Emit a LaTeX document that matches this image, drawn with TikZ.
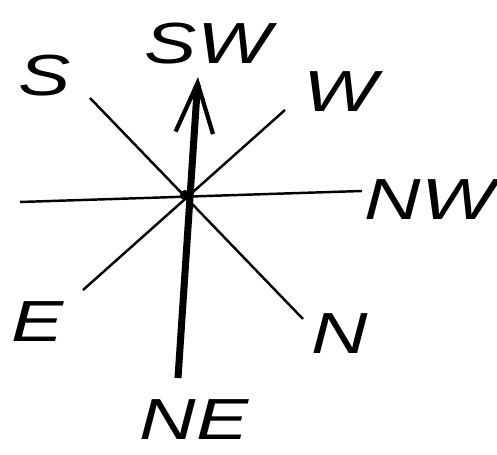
\documentclass[tikz,border=0pt]{standalone}
\usepackage{fontspec}
\setmainfont{Liberation Sans}
\usetikzlibrary{arrows.meta}
\newcommand{\hand}[1]{\scalebox{1.35}[1]{#1}}
\tikzset{
	dirlabel/.style={font=\fontsize{33}{33}\selectfont\itshape, inner sep=0pt},
	ray/.style={line width=1.4pt},
}
\begin{document}
\begin{tikzpicture}[x=0.02cm,y=-0.02cm]
	\useasboundingbox (0,0) rectangle (497,455);
	% ends of the rays
	\coordinate (west) at (20,202);
	\coordinate (east) at (362,191);
	\coordinate (send) at (90,98);
	\coordinate (nend) at (303,319);
	\coordinate (wend) at (285,110);
	\coordinate (eend) at (83,290);
	\coordinate (tail) at (178,378);
	\coordinate (tip) at (198,77);
	\draw[ray](west)--(east);
	\draw[ray](send)--(nend);
	\draw[ray](wend)--(eend);
	\draw[line width=4pt,->,>={Straight Barb[length=1cm,width=0.75cm,line width=2.4pt]}](tail)--(tip);
	\fill (185,195) circle (5);
	% labels
	\node[dirlabel] (s) at (45,76) {\hand{S}};
	\node[dirlabel] (sw) at (208,44) {\hand{SW}};
	\node[dirlabel] (w) at (340,92) {\hand{W}};
	\node[dirlabel] (nw) at (430,200) {\hand{NW}};
	\node[dirlabel] (e) at (38,322) {\hand{E}};
	\node[dirlabel] (n) at (340,334) {\hand{N}};
	\node[dirlabel] (ne) at (194,420) {\hand{NE}};
\end{tikzpicture}
\end{document}
